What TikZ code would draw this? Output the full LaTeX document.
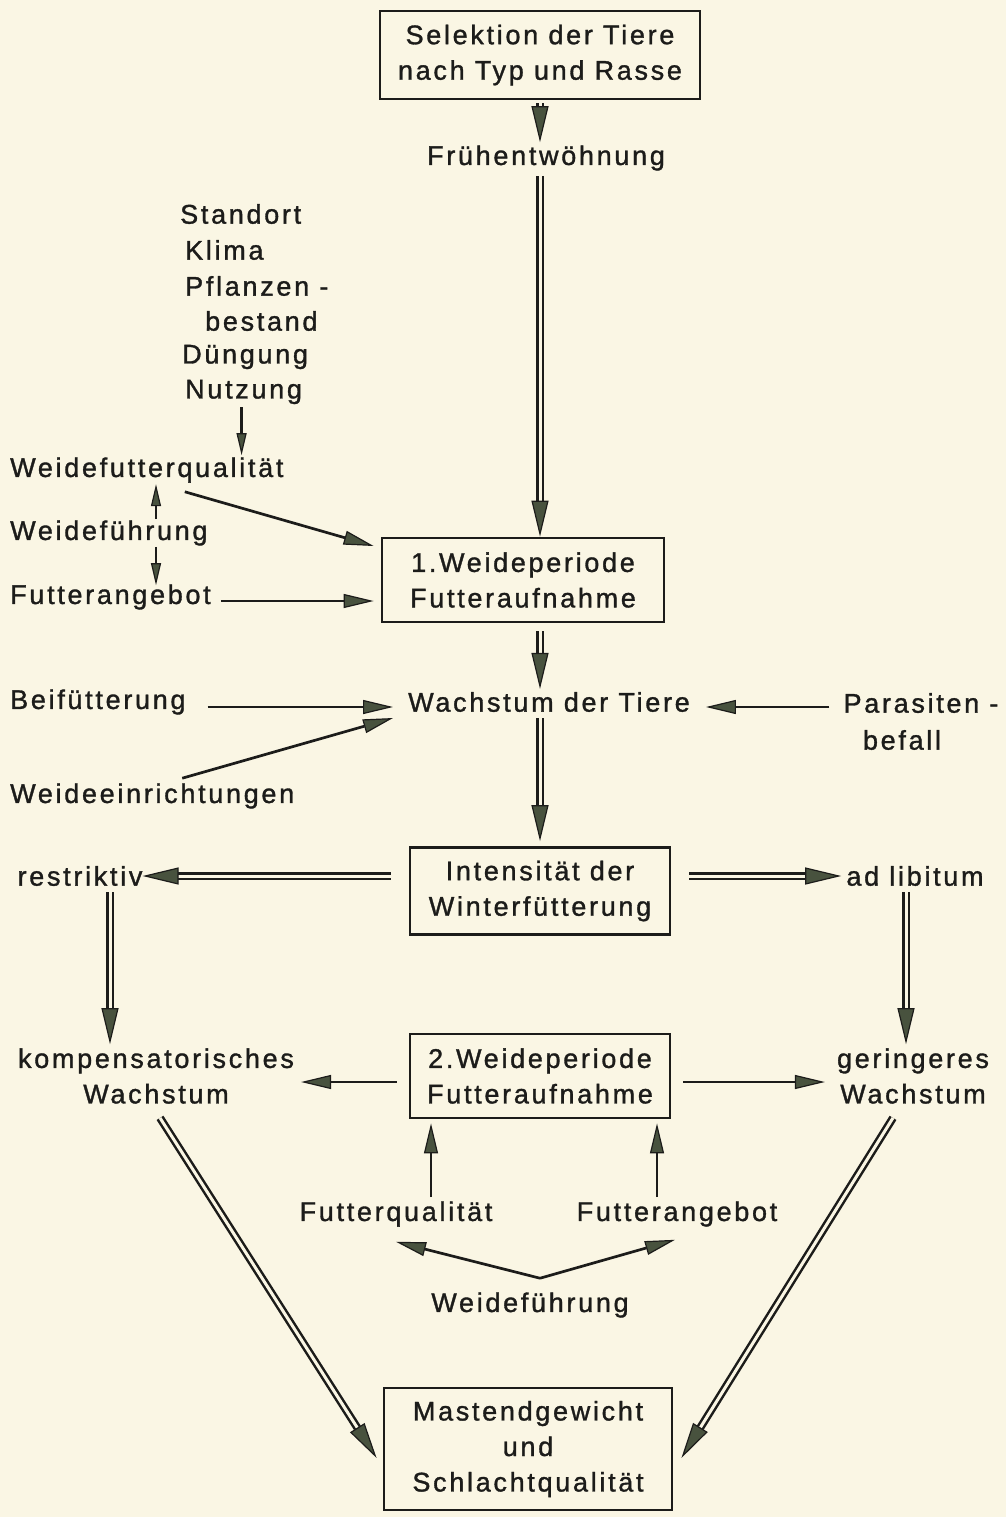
\documentclass[tikz,border=0pt]{standalone}
\usepackage{fontspec}
\setmainfont{Liberation Sans}[LetterSpace=10,FakeBold=1.2]
\usetikzlibrary{arrows.meta,calc}
\definecolor{bg}{RGB}{250,246,228}
\definecolor{ink}{RGB}{28,28,26}
\definecolor{tipfill}{RGB}{72,82,62}
\begin{document}
\begin{tikzpicture}[x=1pt,y=-1pt,
  every node/.style={font=\fontsize{27}{35.5}\selectfont, text=ink, inner sep=0pt},
  box/.style={draw=ink, line width=2.8pt, align=center},
  lbl/.style={align=center},
  ln/.style={draw=ink, line width=2.7pt},
  sarr/.style={ln, -{Triangle[length=30pt,width=14pt,fill=tipfill,line width=1.2pt]}},
  smarr/.style={ln, line width=2.4pt, -{Triangle[length=22pt,width=10pt,fill=tipfill,line width=1.2pt]}},
  darr/.style={draw=ink, line width=2.5pt, double=bg, double distance=3pt, -{Triangle[length=36pt,width=17pt,fill=tipfill,line width=1.2pt]}},
]
\fill[bg] (0,0) rectangle (1006,1517);
\useasboundingbox (0,0) rectangle (1006,1517);

\node[box, minimum width=320pt, minimum height=88pt] (sel) at (540,55) {Selektion der Tiere\\nach Typ und Rasse};
\node (fru) at (546,158) {Frühentwöhnung};
\node[anchor=west] (sta) at (180,214) {Standort};
\node[anchor=west] (kli) at (185,250) {Klima};
\node[anchor=west] (pfl) at (185,286) {Pflanzen -};
\node[anchor=west] (bes) at (205,321) {bestand};
\node[anchor=west] (due) at (182,357) {Düngung};
\node[anchor=west] (nutz) at (185,392) {Nutzung};
\node[anchor=west] (wfq) at (10,470) {Weidefutterqualität};
\node[anchor=west] (wf) at (10,533) {Weideführung};
\node[anchor=west] (fa) at (10,597) {Futterangebot};
\node[box, minimum width=282pt, minimum height=84pt] (wp1) at (523,580) {1.Weideperiode\\Futteraufnahme};
\node (wach) at (549,702) {Wachstum der Tiere};
\node[anchor=west] (bei) at (10,702) {Beifütterung};
\node[anchor=west] (wei) at (10,796) {Weideeinrichtungen};
\node (par1) at (921,703) {Parasiten -};
\node (par2) at (902,740) {befall};
\node[box, minimum width=260pt, minimum height=87pt] (win) at (540,891) {Intensität der\\Winterfütterung};
\node (res) at (80,876) {restriktiv};
\node (adl) at (915,876) {ad libitum};
\node[lbl] (komp) at (156,1076) {kompensatorisches\\Wachstum};
\node[lbl] (ger) at (913,1076) {geringeres\\Wachstum};
\node[box, minimum width=260pt, minimum height=84pt] (wp2) at (540,1076) {2.Weideperiode\\Futteraufnahme};
\node (fq) at (396,1214) {Futterqualität};
\node (fan) at (677,1214) {Futterangebot};
\node (wf2) at (530,1305) {Weideführung};
\node[box, minimum width=288pt, minimum height=122pt] (mast) at (528,1449) {Mastendgewicht\\und\\Schlachtqualität};

% helper coordinates for the small vertical arrows
\coordinate (n1) at ($(nutz.south)+(-2,3)$);
\coordinate (n2) at ($(n1 |- wfq.north)+(0,-2)$);
\coordinate (w1) at ($(wf.north -| 156,0)+(0,-1)$);
\coordinate (w2) at ($(wf.north -| 156,0)+(0,-36)$);
\coordinate (w3) at ($(wf.south -| 156,0)+(0,1)$);
\coordinate (w4) at ($(fa.north -| 156,0)+(0,1)$);

% main double arrows
\draw[darr, shorten <=3pt, shorten >=3pt] (sel.south) -- (fru.north -| sel.south);
\draw[darr, shorten <=5pt] (fru.south -| sel.south) -- (wp1.north -| sel.south);
\draw[darr, shorten <=8pt, shorten >=3pt] (wp1.south -| sel.south) -- (wach.north -| sel.south);
\draw[darr, shorten <=6pt, shorten >=5pt] (wach.south -| sel.south) -- (win.north -| sel.south);
\draw[darr, shorten <=18pt] (win.west |- res.east) -- (res.east);
\draw[darr, shorten <=18pt, shorten >=5pt] (win.east |- adl.west) -- (adl.west);
\draw[darr, shorten <=6pt, shorten >=4pt] ($(res.south)+(30,0)$) -- ($(komp.north)+(-46,0)$);
\draw[darr, shorten <=6pt, shorten >=4pt] ($(adl.south)+(-9,0)$) -- ($(ger.north)+(-7,0)$);
\draw[darr] ($(komp.south)+(4,14)$) -- ($(mast.west)+(-6,9)$);
\draw[darr] ($(ger.south)+(-20,14)$) -- ($(mast.east)+(8,9)$);

% single arrows
\draw[smarr] (n1) -- (n2);
\draw[smarr] (w1) -- (w2);
\draw[smarr] (w3) -- (w4);
\draw[sarr] ($(wfq.south)+(38,9)$) -- ($(wp1.west)+(-7,-34)$);
\draw[sarr] ($(fa.east)+(10,4)$) -- ($(wp1.west)+(-7,21)$);
\draw[sarr] ($(bei.east)+(22,5)$) -- ($(wach.west)+(-15,5)$);
\draw[sarr] ($(wei.north)+(30,-5)$) -- ($(wach.west)+(-15,16)$);
\draw[sarr] ($(par1.west)+(-14,4)$) -- ($(wach.east)+(16,5)$);
\draw[sarr] ($(wp2.west)+(-12,6)$) -- ($(komp.east)+(7,6)$);
\draw[sarr] ($(wp2.east)+(12,6)$) -- ($(ger.west)+(-12,6)$);
\draw[sarr] ($(fq.north)+(35,-4)$) -- ($(wp2.south)+(-109,4)$);
\draw[sarr] ($(fan.north)+(-20,-4)$) -- ($(wp2.south)+(117,4)$);
\draw[sarr] ($(wf2.north)+(10,-14)$) -- ($(fq.south)+(0,15)$);
\draw[sarr] ($(wf2.north)+(10,-14)$) -- ($(fan.south)+(-2,13)$);
\end{tikzpicture}
\end{document}
